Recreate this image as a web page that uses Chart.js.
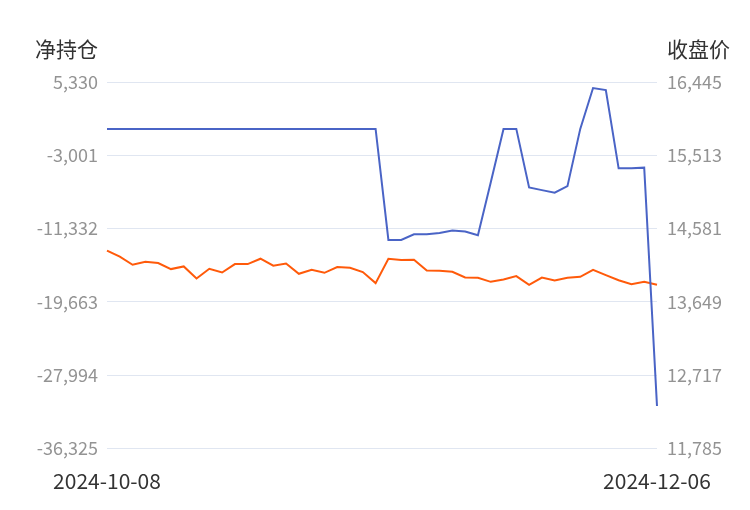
<!DOCTYPE html>
<html>
<head>
<meta charset="utf-8">
<script src="https://cdn.jsdelivr.net/npm/chart.js@4"></script>
<style>
  html, body { margin: 0; padding: 0; background: #ffffff; }
  #wrap { width: 750px; height: 510px; }
</style>
</head>
<body>
<div id="wrap"><canvas id="c" width="750" height="510"></canvas></div>
<script>
const dates = [
  '2024-10-08','2024-10-09','2024-10-10','2024-10-11',
  '2024-10-14','2024-10-15','2024-10-16','2024-10-17','2024-10-18',
  '2024-10-21','2024-10-22','2024-10-23','2024-10-24','2024-10-25',
  '2024-10-28','2024-10-29','2024-10-30','2024-10-31','2024-11-01',
  '2024-11-04','2024-11-05','2024-11-06','2024-11-07','2024-11-08',
  '2024-11-11','2024-11-12','2024-11-13','2024-11-14','2024-11-15',
  '2024-11-18','2024-11-19','2024-11-20','2024-11-21','2024-11-22',
  '2024-11-25','2024-11-26','2024-11-27','2024-11-28','2024-11-29',
  '2024-12-02','2024-12-03','2024-12-04','2024-12-05','2024-12-06'
];
const netPosition = [
  0, 0, 0, 0, 0, 0, 0, 0, 0, 0,
  0, 0, 0, 0, 0, 0, 0, 0, 0, 0,
  0, 0, -12622, -12622, -11982, -11982, -11823, -11560, -11674, -12096,
  -6100, 0, 0, -6653, -6961, -7258, -6505, 0, 4645, 4417,
  -4485, -4485, -4405, -31497
];
const closePrice = [
  14300, 14224, 14121, 14160, 14143, 14066, 14100, 13947, 14070, 14023,
  14130, 14130, 14198, 14109, 14138, 14006, 14057, 14019, 14092, 14083,
  14028, 13888, 14198, 14181, 14185, 14049, 14045, 14032, 13959, 13955,
  13904, 13934, 13977, 13866, 13959, 13921, 13955, 13968, 14057, 13990,
  13925, 13875, 13904, 13866
];
const leftTicks = [-36325, -27994, -19663, -11332, -3001, 5330];
const rightTicks = [11785, 12717, 13649, 14581, 15513, 16445];
const leftTitle = '净持仓';
const rightTitle = '收盘价';

const FONT = '"Noto Sans CJK SC", "Noto Sans", sans-serif';
const fmt = v => Number(v).toLocaleString('en-US');

const titlePlugin = {
  id: 'axisTitles',
  afterDraw(chart) {
    const ctx = chart.ctx;
    ctx.save();
    ctx.font = '21px ' + FONT;
    ctx.fillStyle = '#333333';
    ctx.textBaseline = 'middle';
    ctx.textAlign = 'left';
    ctx.fillText(leftTitle, 35, 49);
    ctx.fillText(rightTitle, 667, 49);
    ctx.restore();
  }
};

new Chart(document.getElementById('c'), {
  type: 'line',
  data: {
    labels: dates,
    datasets: [
      {
        label: leftTitle,
        data: netPosition,
        yAxisID: 'y',
        borderColor: '#4a64c6',
        backgroundColor: '#4a64c6',
        borderWidth: 2,
        pointRadius: 0,
        tension: 0
      },
      {
        label: rightTitle,
        data: closePrice,
        yAxisID: 'y1',
        borderColor: '#ff5a0a',
        backgroundColor: '#ff5a0a',
        borderWidth: 2,
        pointRadius: 0,
        tension: 0
      }
    ]
  },
  options: {
    responsive: false,
    devicePixelRatio: 1,
    animation: false,
    layout: { padding: { top: 82, bottom: 0, left: 0, right: 0 } },
    plugins: {
      legend: { display: false },
      tooltip: { enabled: false }
    },
    scales: {
      x: {
        offset: false,
        afterFit: s => { s.height = 61.5; },
        grid: { display: false, drawTicks: false },
        border: { display: false },
        ticks: {
          autoSkip: false,
          maxRotation: 0,
          padding: 20,
          color: '#333333',
          font: { family: FONT, size: 21 },
          callback: function(v, i) {
            return (i === 0 || i === dates.length - 1) ? dates[i] : null;
          }
        }
      },
      y: {
        position: 'left',
        min: leftTicks[0],
        max: leftTicks[leftTicks.length - 1],
        afterBuildTicks: s => { s.ticks = leftTicks.map(v => ({ value: v })); },
        afterFit: s => { s.width = 107; },
        grid: { color: '#e0e6f1', lineWidth: 1, drawTicks: false },
        border: { display: false },
        ticks: {
          padding: 9,
          color: '#939393',
          font: { family: FONT, size: 18 },
          callback: v => fmt(v)
        }
      },
      y1: {
        position: 'right',
        min: rightTicks[0],
        max: rightTicks[rightTicks.length - 1],
        afterBuildTicks: s => { s.ticks = rightTicks.map(v => ({ value: v })); },
        afterFit: s => { s.width = 93; },
        grid: { display: false, drawTicks: false },
        border: { display: false },
        ticks: {
          padding: 10,
          color: '#939393',
          font: { family: FONT, size: 18 },
          callback: v => fmt(v)
        }
      }
    }
  },
  plugins: [titlePlugin]
});
</script>
</body>
</html>
